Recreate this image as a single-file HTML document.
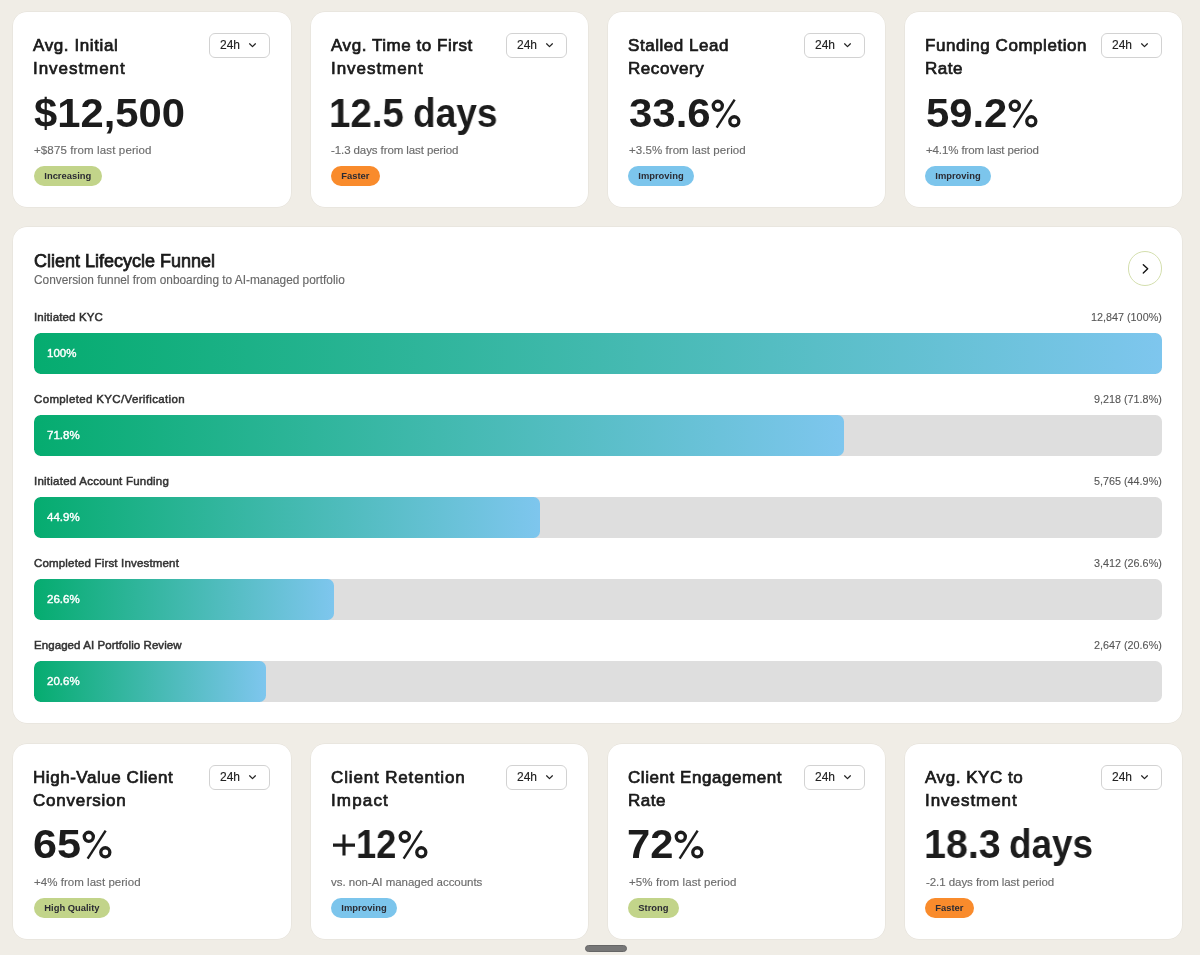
<!DOCTYPE html>
<html>
<head>
<meta charset="utf-8">
<style>
*{box-sizing:border-box;margin:0;padding:0}
html,body{width:1200px;height:955px;overflow:hidden;background:#F0EDE6;font-family:"Liberation Sans",sans-serif;color:#1b1b1b}
.row{position:absolute;left:13.3px;width:1168.8px;display:flex;gap:20px}
.r1{top:12px;height:195.3px}
.r3{top:744.3px;height:194.4px}
.card{position:relative;flex:1 1 0;background:#fff;border-radius:14px;box-shadow:0 0 0 0.5px rgba(90,80,60,0.08)}
.ttl,.big,.sub,.badge,.dd,.ftitle,.fsub,.lab,.val,.track span{will-change:transform}
.ttl{position:absolute;left:20.0px;top:21.8px;font-size:17px;line-height:23.4px;letter-spacing:0.55px;-webkit-text-stroke:0.7px #1a1a1a;color:#1a1a1a;white-space:nowrap}
.dd{position:absolute;right:20.7px;top:21px;width:60.6px;height:24.5px;border:1px solid #d2d2d2;border-radius:6px;color:#222}
.dd span{position:absolute;left:10px;top:3.8px;font-size:12px;line-height:14px;-webkit-text-stroke:0.15px #222}
.dd svg{position:absolute;left:37.9px;top:7.9px}
.big{position:absolute;left:20.0px;top:77.2px;font-weight:bold;font-size:40px;line-height:48px;color:#1c1c1c;white-space:nowrap}
.sub{position:absolute;left:20.8px;top:129.8px;font-size:11.5px;line-height:16px;color:#6b6b6b;-webkit-text-stroke:0.15px #6b6b6b;white-space:nowrap}
.badge{position:absolute;left:20.4px;top:154px;height:20px;border-radius:10px;padding:0 10.3px;font-size:9.4px;font-weight:bold;line-height:20px;color:#2b2b33;white-space:nowrap}
.pct{position:absolute;overflow:visible}
.bigp{position:absolute;transform-origin:0 0;font-weight:bold;font-size:40px;line-height:48px;color:#1c1c1c;white-space:nowrap;will-change:transform}
.g{background:#C2D48A}
.b{background:#7CC5EC}
.o{background:#F98B2C}
.funnel{position:absolute;left:13.3px;top:227.4px;width:1168.9px;height:495.8px;background:#fff;border-radius:14px;box-shadow:0 0 0 0.5px rgba(90,80,60,0.08)}
.ftitle{position:absolute;left:20.3px;top:23px;font-size:18px;line-height:22px;-webkit-text-stroke:0.75px #1a1a1a;color:#1a1a1a;white-space:nowrap}
.fsub{position:absolute;left:20.3px;top:45.7px;font-size:11.85px;line-height:14px;color:#686868;-webkit-text-stroke:0.15px #686868;white-space:nowrap}
.circ{position:absolute;left:1114.4px;top:23.8px;width:34.6px;height:34.6px;border:1px solid #D4DFAE;border-radius:50%}
.circ svg{position:absolute;left:-1px;top:-1px}
.lab{position:absolute;left:20.5px;font-size:11.5px;line-height:14px;color:#333;-webkit-text-stroke:0.5px #333;white-space:nowrap}
.val{position:absolute;right:20.4px;font-size:10.8px;line-height:14px;color:#555;-webkit-text-stroke:0.1px #555;white-space:nowrap}
.track{position:absolute;left:20.3px;width:1128.5px;height:41px;background:#DEDEDE;border-radius:6.5px;overflow:hidden}
.fill{position:absolute;left:0;top:0;bottom:0;border-radius:6.5px;background:linear-gradient(90deg,#05AC6F 0%,#7EC6EE 100%)}
.track span{position:absolute;left:13.7px;top:12.8px;line-height:14px;font-size:11.5px;color:#fff;-webkit-text-stroke:0.4px #fff;white-space:nowrap}
.pill{position:absolute;left:585px;top:945px;width:41.5px;height:7px;border-radius:4px;background:#777;border:1px solid #666}
</style>
</head>
<body>
<div class="row r1">
<div class="card">
<div class="ttl"><span style="letter-spacing:0.6px">Avg. Initial</span><br><span style="letter-spacing:0.95px">Investment</span></div>
<div class="dd"><span>24h</span><svg width="9" height="6" viewBox="0 0 9 6"><path d="M1.6 1.8L4.5 4.6L7.4 1.8" fill="none" stroke="#222" stroke-width="1.25" stroke-linecap="round" stroke-linejoin="round"/></svg></div>
<div class="bigp" style="left:20.76px;top:77.10px;transform:scaleX(1.0437)">$12,500</div>
<div class="sub" style="letter-spacing:0.13px">+$875 from last period</div>
<div class="badge g">Increasing</div>
</div><div class="card">
<div class="ttl"><span style="letter-spacing:0.55px">Avg. Time to First</span><br><span style="letter-spacing:0.95px">Investment</span></div>
<div class="dd"><span>24h</span><svg width="9" height="6" viewBox="0 0 9 6"><path d="M1.6 1.8L4.5 4.6L7.4 1.8" fill="none" stroke="#222" stroke-width="1.25" stroke-linecap="round" stroke-linejoin="round"/></svg></div>
<div class="bigp" style="left:18.36px;top:77.10px;transform:scaleX(0.9628)">12.5</div><div class="bigp" style="left:102.15px;top:77.10px;transform:scaleX(0.9261)">days</div>
<div class="sub" style="letter-spacing:-0.09px">-1.3 days from last period</div>
<div class="badge o">Faster</div>
</div><div class="card">
<div class="ttl"><span style="letter-spacing:0.55px">Stalled Lead</span><br><span style="letter-spacing:0.55px">Recovery</span></div>
<div class="dd"><span>24h</span><svg width="9" height="6" viewBox="0 0 9 6"><path d="M1.6 1.8L4.5 4.6L7.4 1.8" fill="none" stroke="#222" stroke-width="1.25" stroke-linecap="round" stroke-linejoin="round"/></svg></div>
<div class="bigp" style="left:20.85px;top:77.10px;transform:scaleX(1.0493)">33.6</div><svg class="pct" style="left:102.90px;top:85.60px" width="30" height="30" viewBox="0 0 30 30"><circle cx="6.8" cy="7.8" r="4.55" fill="none" stroke="#1c1c1c" stroke-width="3.3"/><circle cx="23.3" cy="23.3" r="4.55" fill="none" stroke="#1c1c1c" stroke-width="3.3"/><path d="M5.65 29.6L23.65 1.6" stroke="#1c1c1c" stroke-width="2.4"/></svg>
<div class="sub" style="letter-spacing:0.06px">+3.5% from last period</div>
<div class="badge b">Improving</div>
</div><div class="card">
<div class="ttl"><span style="letter-spacing:0.55px">Funding Completion</span><br><span style="letter-spacing:0.55px">Rate</span></div>
<div class="dd"><span>24h</span><svg width="9" height="6" viewBox="0 0 9 6"><path d="M1.6 1.8L4.5 4.6L7.4 1.8" fill="none" stroke="#222" stroke-width="1.25" stroke-linecap="round" stroke-linejoin="round"/></svg></div>
<div class="bigp" style="left:21.35px;top:77.10px;transform:scaleX(1.0453)">59.2</div><svg class="pct" style="left:102.80px;top:85.60px" width="30" height="30" viewBox="0 0 30 30"><circle cx="6.8" cy="7.8" r="4.55" fill="none" stroke="#1c1c1c" stroke-width="3.3"/><circle cx="23.3" cy="23.3" r="4.55" fill="none" stroke="#1c1c1c" stroke-width="3.3"/><path d="M5.65 29.6L23.65 1.6" stroke="#1c1c1c" stroke-width="2.4"/></svg>
<div class="sub" style="letter-spacing:-0.12px">+4.1% from last period</div>
<div class="badge b">Improving</div>
</div>
</div>
<div class="funnel">
<div class="ftitle">Client Lifecycle Funnel</div>
<div class="fsub">Conversion funnel from onboarding to AI-managed portfolio</div>
<div class="circ"><svg width="34" height="34" viewBox="0 0 34 34"><path d="M15.3 13.7L19.7 17.8L15.3 21.9" fill="none" stroke="#111" stroke-width="1.4" stroke-linecap="round" stroke-linejoin="round"/></svg></div>
<div class="lab" style="top:82.50px;letter-spacing:0.15px">Initiated KYC</div>
<div class="val" style="top:82.50px">12,847 (100%)</div>
<div class="track" style="top:106.10px"><div class="fill" style="width:100%"></div><span>100%</span></div>
<div class="lab" style="top:164.50px;letter-spacing:0.35px">Completed KYC/Verification</div>
<div class="val" style="top:164.50px">9,218 (71.8%)</div>
<div class="track" style="top:188.10px"><div class="fill" style="width:71.8%"></div><span>71.8%</span></div>
<div class="lab" style="top:246.50px;letter-spacing:0.24px">Initiated Account Funding</div>
<div class="val" style="top:246.50px">5,765 (44.9%)</div>
<div class="track" style="top:270.10px"><div class="fill" style="width:44.9%"></div><span>44.9%</span></div>
<div class="lab" style="top:328.50px;letter-spacing:0.17px">Completed First Investment</div>
<div class="val" style="top:328.50px">3,412 (26.6%)</div>
<div class="track" style="top:352.10px"><div class="fill" style="width:26.6%"></div><span>26.6%</span></div>
<div class="lab" style="top:410.50px;letter-spacing:0.07px">Engaged AI Portfolio Review</div>
<div class="val" style="top:410.50px">2,647 (20.6%)</div>
<div class="track" style="top:434.10px"><div class="fill" style="width:20.6%"></div><span>20.6%</span></div>
</div>
<div class="row r3">
<div class="card">
<div class="ttl"><span style="letter-spacing:0.55px">High-Value Client</span><br><span style="letter-spacing:0.75px">Conversion</span></div>
<div class="dd"><span>24h</span><svg width="9" height="6" viewBox="0 0 9 6"><path d="M1.6 1.8L4.5 4.6L7.4 1.8" fill="none" stroke="#222" stroke-width="1.25" stroke-linecap="round" stroke-linejoin="round"/></svg></div>
<div class="bigp" style="left:20.04px;top:76.10px;transform:scaleX(1.0805)">65</div><svg class="pct" style="left:68.50px;top:84.60px" width="30" height="30" viewBox="0 0 30 30"><circle cx="6.8" cy="7.8" r="4.55" fill="none" stroke="#1c1c1c" stroke-width="3.3"/><circle cx="23.3" cy="23.3" r="4.55" fill="none" stroke="#1c1c1c" stroke-width="3.3"/><path d="M5.65 29.6L23.65 1.6" stroke="#1c1c1c" stroke-width="2.4"/></svg>
<div class="sub" style="letter-spacing:0.04px">+4% from last period</div>
<div class="badge g">High Quality</div>
</div><div class="card">
<div class="ttl"><span style="letter-spacing:0.85px">Client Retention</span><br><span style="letter-spacing:1.15px">Impact</span></div>
<div class="dd"><span>24h</span><svg width="9" height="6" viewBox="0 0 9 6"><path d="M1.6 1.8L4.5 4.6L7.4 1.8" fill="none" stroke="#222" stroke-width="1.25" stroke-linecap="round" stroke-linejoin="round"/></svg></div>
<div class="bigp" style="left:45.68px;top:76.10px;transform:scaleX(0.9075)">12</div><svg class="pct" style="left:22.80px;top:89.90px" width="22" height="22" viewBox="0 0 22 22"><path d="M0 11.1H22M11 0.5V21.5" stroke="#1c1c1c" stroke-width="3.1"/></svg><svg class="pct" style="left:87.30px;top:84.60px" width="30" height="30" viewBox="0 0 30 30"><circle cx="6.8" cy="7.8" r="4.55" fill="none" stroke="#1c1c1c" stroke-width="3.3"/><circle cx="23.3" cy="23.3" r="4.55" fill="none" stroke="#1c1c1c" stroke-width="3.3"/><path d="M5.65 29.6L23.65 1.6" stroke="#1c1c1c" stroke-width="2.4"/></svg>
<div class="sub" style="letter-spacing:-0.03px">vs. non-AI managed accounts</div>
<div class="badge b">Improving</div>
</div><div class="card">
<div class="ttl"><span style="letter-spacing:0.55px">Client Engagement</span><br><span style="letter-spacing:0.55px">Rate</span></div>
<div class="dd"><span>24h</span><svg width="9" height="6" viewBox="0 0 9 6"><path d="M1.6 1.8L4.5 4.6L7.4 1.8" fill="none" stroke="#222" stroke-width="1.25" stroke-linecap="round" stroke-linejoin="round"/></svg></div>
<div class="bigp" style="left:18.96px;top:76.10px;transform:scaleX(1.0427)">72</div><svg class="pct" style="left:66.20px;top:84.60px" width="30" height="30" viewBox="0 0 30 30"><circle cx="6.8" cy="7.8" r="4.55" fill="none" stroke="#1c1c1c" stroke-width="3.3"/><circle cx="23.3" cy="23.3" r="4.55" fill="none" stroke="#1c1c1c" stroke-width="3.3"/><path d="M5.65 29.6L23.65 1.6" stroke="#1c1c1c" stroke-width="2.4"/></svg>
<div class="sub" style="letter-spacing:0.09px">+5% from last period</div>
<div class="badge g">Strong</div>
</div><div class="card">
<div class="ttl"><span style="letter-spacing:0.55px">Avg. KYC to</span><br><span style="letter-spacing:0.95px">Investment</span></div>
<div class="dd"><span>24h</span><svg width="9" height="6" viewBox="0 0 9 6"><path d="M1.6 1.8L4.5 4.6L7.4 1.8" fill="none" stroke="#222" stroke-width="1.25" stroke-linecap="round" stroke-linejoin="round"/></svg></div>
<div class="bigp" style="left:19.34px;top:76.10px;transform:scaleX(0.9863)">18.3</div><div class="bigp" style="left:103.96px;top:76.10px;transform:scaleX(0.9205)">days</div>
<div class="sub" style="letter-spacing:-0.06px">-2.1 days from last period</div>
<div class="badge o">Faster</div>
</div>
</div>
<div class="pill"></div>
</body>
</html>
